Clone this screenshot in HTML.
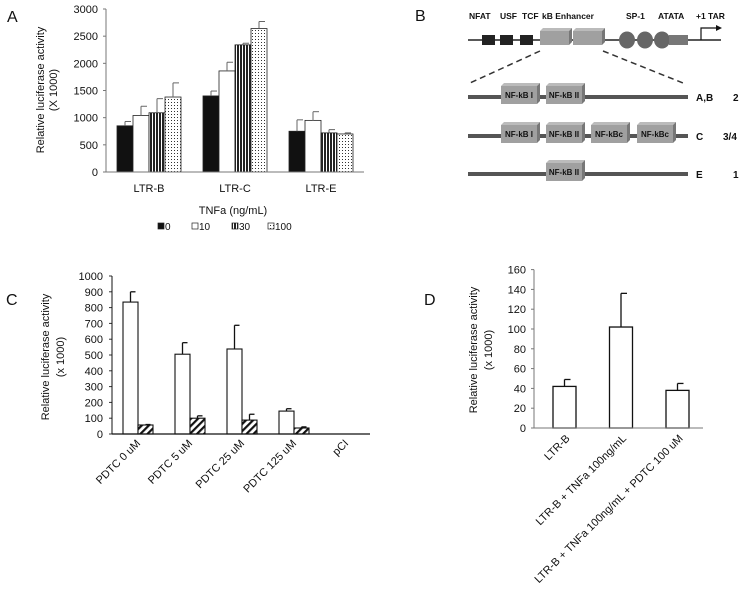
<!DOCTYPE html>
<html><head><meta charset="utf-8"><style>
html,body{margin:0;padding:0;background:#fff;}
svg{display:block;font-family:"Liberation Sans",Arial,sans-serif;}
.t{font-size:11px;fill:#111;}
.b{font-size:8.5px;font-weight:bold;fill:#111;}
.bl{font-size:10px;font-weight:bold;fill:#111;}
.pl{font-size:16px;fill:#111;}
</style></head><body>
<svg id="fig" width="741" height="603" viewBox="0 0 741 603">
<defs>
<pattern id="vstripe" width="3" height="4" patternUnits="userSpaceOnUse"><rect width="3" height="4" fill="#fff"/><rect width="2" height="4" fill="#222"/></pattern>
<pattern id="dots" width="3" height="3" patternUnits="userSpaceOnUse"><rect width="3" height="3" fill="#fff"/><rect width="1" height="1" fill="#333"/></pattern>
<pattern id="hatch" width="5" height="5" patternUnits="userSpaceOnUse" patternTransform="rotate(45)"><rect width="5" height="5" fill="#fff"/><rect width="2.2" height="5" fill="#111"/></pattern>
</defs>
<g id="pA"></g>
<g id="pB"></g>
<g id="pC"></g>
<g id="pD"></g>
</svg>
<script>
// Panel A data
const aCategories = ["LTR-B","LTR-C","LTR-E"];
const aSeriesNames = ["0","10","30","100"];
const aValues0 = [850,1400,750];
const aValues10 = [1040,1860,950];
const aValues30 = [1090,2340,720];
const aValues100 = [1380,2640,700];
const aErr0 = [80,90,210];
const aErr10 = [170,160,160];
const aErr30 = [260,30,60];
const aErr100 = [260,130,20];
const aTicks = [0,500,1000,1500,2000,2500,3000];
// Panel C data
const cCategories = ["PDTC 0 uM","PDTC 5 uM","PDTC 25 uM","PDTC 125 uM","pCI"];
const cWhite = [835,505,538,145,0];
const cWhiteErr = [65,73,150,15,0];
const cHatch = [57,100,88,38,0];
const cHatchErr = [3,15,37,7,0];
const cTicks = [0,100,200,300,400,500,600,700,800,900,1000];
// Panel D data
const dCategories = ["LTR-B","LTR-B + TNFa 100ng/mL","LTR-B + TNFa 100ng/mL + PDTC 100 uM"];
const dValues = [42,102,38];
const dErr = [7,34,7];
const dTicks = [0,20,40,60,80,100,120,140,160];

const NS="http://www.w3.org/2000/svg";
function mk(parent,tag,attrs,text){const e=document.createElementNS(NS,tag);for(const k in attrs)e.setAttribute(k,attrs[k]);if(text!==undefined)e.textContent=text;parent.appendChild(e);return e;}

// ---------- Panel A ----------
(function(){
const g=document.getElementById('pA');
const x0=106,x1=364,y0=172,yTop=9,maxV=3000;
const ys=v=>y0-(v/maxV)*(y0-yTop);
const band=(x1-x0)/aCategories.length;
const bw=16;
const fills=["#111","#fff","url(#vstripe)","url(#dots)"];
const vals=[aValues0,aValues10,aValues30,aValues100];
const errs=[aErr0,aErr10,aErr30,aErr100];
let t=mk(g,'text',{x:7,y:22,class:'pl'},'A');

aTicks.forEach(v=>{
 let tk=mk(g,'text',{x:98,y:ys(v)+4,class:'t','text-anchor':'end'},String(v));
 
 mk(g,'line',{x1:x0-3,x2:x0,y1:ys(v),y2:ys(v),stroke:'#777'});
});
aCategories.forEach((c,i)=>{
 const gx=x0+band*i+band/2-2*bw;
 vals.forEach((s,j)=>{
  const bx=gx+j*bw;
  let r=mk(g,'rect',{x:bx,y:ys(s[i]),width:bw,height:y0-ys(s[i]),fill:fills[j],stroke:'#222','stroke-width':0.8});
  
  const ey=ys(s[i]+errs[j][i]);
  mk(g,'line',{x1:bx+bw/2,x2:bx+bw/2,y1:ys(s[i]),y2:ey,stroke:'#666','stroke-width':1});
  mk(g,'line',{x1:bx+bw/2,x2:bx+bw/2+6,y1:ey,y2:ey,stroke:'#666','stroke-width':1});
 });
 let l=mk(g,'text',{x:x0+band*i+band/2,y:192,class:'t','text-anchor':'middle'},c);
 
});
mk(g,'line',{x1:x0,x2:x0,y1:yTop,y2:y0,stroke:'#777'});
mk(g,'line',{x1:x0,x2:x1,y1:y0,y2:y0,stroke:'#777'});
let yt=mk(g,'text',{transform:'translate(44,90) rotate(-90)',class:'t','text-anchor':'middle'},'Relative luciferase activity');

let yt2=mk(g,'text',{transform:'translate(57,90) rotate(-90)',class:'t','text-anchor':'middle'},'(X 1000)');

let xt=mk(g,'text',{x:233,y:214,class:'t','text-anchor':'middle'},'TNFa (ng/mL)');

const lx=[158,192,232,268];
aSeriesNames.forEach((n,j)=>{
 let le=mk(g,'g',{});
 
 mk(le,'rect',{x:lx[j],y:223,width:6,height:6,fill:fills[j],stroke:'#222','stroke-width':0.7});
 mk(le,'text',{x:lx[j]+7,y:230,class:'t','style':'font-size:10px'},n);
});
})();

// ---------- Panel B (diagram) ----------
(function(){
const g=document.getElementById('pB');
let t=mk(g,'text',{x:415,y:21,class:'pl'},'B');

const labs=[["NFAT",469],["USF",500],["TCF",522],["kB Enhancer",542],["SP-1",626],["ATATA",658],["+1 TAR",696]];
labs.forEach(([s,x])=>{let e=mk(g,'text',{x:x,y:19,class:'b'},s);});
mk(g,'line',{x1:468,x2:721,y1:40,y2:40,stroke:'#222','stroke-width':1.5});
[482,500,520].forEach(x=>mk(g,'rect',{x:x,y:35,width:13,height:10,fill:'#222'}));
function box3d(x,y,w,h,label){
 const bg=mk(g,'g',{});
 
 mk(bg,'polygon',{points:`${x},${y} ${x+3},${y-3} ${x+w+3},${y-3} ${x+w},${y}`,fill:'#bbb'});
 mk(bg,'polygon',{points:`${x+w},${y} ${x+w+3},${y-3} ${x+w+3},${y+h-3} ${x+w},${y+h}`,fill:'#777'});
 mk(bg,'rect',{x:x,y:y,width:w,height:h,fill:'#a0a0a0'});
 if(label){mk(bg,'text',{x:x+w/2,y:y+h/2+3,class:'b','text-anchor':'middle','style':'font-size:8px'},label);}
}
box3d(540,31,29,14);box3d(573,31,29,14);
[627,645,662].forEach(cx=>mk(g,'ellipse',{cx:cx,cy:40,rx:8,ry:8.5,fill:'#666'}));
mk(g,'rect',{x:669,y:35,width:19,height:10,fill:'#777'});
mk(g,'polyline',{points:'701,40 701,28 716,28',fill:'none',stroke:'#111','stroke-width':1.2});
mk(g,'polygon',{points:'716,25 722,28 716,31',fill:'#111'});
mk(g,'line',{x1:540,y1:51,x2:470,y2:83,stroke:'#333','stroke-width':1.5,'stroke-dasharray':'6,4'});
mk(g,'line',{x1:603,y1:51,x2:683,y2:83,stroke:'#333','stroke-width':1.5,'stroke-dasharray':'6,4'});
const rows=[[97,[[501,'NF-kB I'],[546,'NF-kB II']],'A,B','2',733],[136,[[501,'NF-kB I'],[546,'NF-kB II'],[591,'NF-kBc'],[637,'NF-kBc']],'C','3/4',723],[174,[[546,'NF-kB II']],'E','1',733]];
rows.forEach(([y,bs,l1,l2,x2])=>{
 mk(g,'line',{x1:468,x2:688,y1:y,y2:y,stroke:'#555','stroke-width':4});
 bs.forEach(([x,s])=>box3d(x,y-11,36,18,s));
 let a=mk(g,'text',{x:696,y:y+4,class:'bl'},l1);
 let b=mk(g,'text',{x:x2,y:y+4,class:'bl'},l2);
});
})();

// ---------- Panel C ----------
(function(){
const g=document.getElementById('pC');
const x0=112,x1=370,y0=434,maxV=1000,pxPer=15.8/100;
const ys=v=>y0-v*pxPer;
const band=52,bw=15,start=123;
let t=mk(g,'text',{x:6,y:305,class:'pl'},'C');

cTicks.forEach(v=>{
 let tk=mk(g,'text',{x:103,y:ys(v)+4,class:'t','text-anchor':'end'},String(v));
 
 mk(g,'line',{x1:x0-3,x2:x0,y1:ys(v),y2:ys(v),stroke:'#333'});
});
cCategories.forEach((c,i)=>{
 const bx=start+band*i;
 [[cWhite,cWhiteErr,'#fff','white'],[cHatch,cHatchErr,'url(#hatch)','hatched']].forEach(([s,e,f,n],j)=>{
  const x=bx+j*bw;
  if(s[i]>0){
   let r=mk(g,'rect',{x:x,y:ys(s[i]),width:bw,height:y0-ys(s[i]),fill:f,stroke:'#111','stroke-width':1.1});
   
   const ey=ys(s[i]+e[i]);
   mk(g,'line',{x1:x+bw/2,x2:x+bw/2,y1:ys(s[i]),y2:ey,stroke:'#111','stroke-width':1.3});
   mk(g,'line',{x1:x+bw/2,x2:x+bw/2+5,y1:ey,y2:ey,stroke:'#111','stroke-width':1.3});
  }
 });
 let l=mk(g,'text',{transform:`translate(${bx+bw+3},${y0+10}) rotate(-45)`,class:'t','text-anchor':'end'},c);
 
});
mk(g,'line',{x1:x0,x2:x0,y1:ys(1000),y2:y0,stroke:'#111'});
mk(g,'line',{x1:x0,x2:x1,y1:y0,y2:y0,stroke:'#111','stroke-width':1.2});
let yt=mk(g,'text',{transform:'translate(49,357) rotate(-90)',class:'t','text-anchor':'middle'},'Relative luciferase activity');

let yt2=mk(g,'text',{transform:'translate(64,357) rotate(-90)',class:'t','text-anchor':'middle'},'(x 1000)');

})();

// ---------- Panel D ----------
(function(){
const g=document.getElementById('pD');
const x0=534,x1=703,y0=428,pxPer=19.8/20;
const ys=v=>y0-v*pxPer;
const band=56.5,bw=23,start=553;
let t=mk(g,'text',{x:424,y:305,class:'pl'},'D');

dTicks.forEach(v=>{
 let tk=mk(g,'text',{x:526,y:ys(v)+4,class:'t','text-anchor':'end'},String(v));
 
 mk(g,'line',{x1:x0-3,x2:x0,y1:ys(v),y2:ys(v),stroke:'#777'});
});
dCategories.forEach((c,i)=>{
 const x=start+band*i;
 let r=mk(g,'rect',{x:x,y:ys(dValues[i]),width:bw,height:y0-ys(dValues[i]),fill:'#fff',stroke:'#111','stroke-width':1.3});
 
 const ey=ys(dValues[i]+dErr[i]);
 mk(g,'line',{x1:x+bw/2,x2:x+bw/2,y1:ys(dValues[i]),y2:ey,stroke:'#111','stroke-width':1.3});
 mk(g,'line',{x1:x+bw/2,x2:x+bw/2+6,y1:ey,y2:ey,stroke:'#111','stroke-width':1.3});
 let l=mk(g,'text',{transform:`translate(${x+bw/2+6},${y0+11}) rotate(-45)`,class:'t','text-anchor':'end'},c);
 
});
mk(g,'line',{x1:x0,x2:x0,y1:ys(160),y2:y0,stroke:'#777'});
mk(g,'line',{x1:x0,x2:x1,y1:y0,y2:y0,stroke:'#777'});
let yt=mk(g,'text',{transform:'translate(477,350) rotate(-90)',class:'t','text-anchor':'middle'},'Relative luciferase activity');

let yt2=mk(g,'text',{transform:'translate(492,350) rotate(-90)',class:'t','text-anchor':'middle'},'(x 1000)');

})();
</script>
</body></html>
